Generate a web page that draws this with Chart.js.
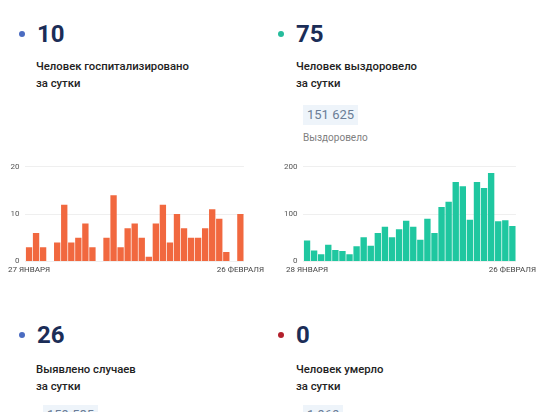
<!DOCTYPE html>
<html>
<head>
<meta charset="utf-8">
<script src="https://cdn.jsdelivr.net/npm/chart.js@4/dist/chart.umd.min.js"></script>
<style>
  html, body { margin: 0; padding: 0; background: #fff; }
  body { width: 550px; height: 412px; position: relative; overflow: hidden; font-family: Roboto, "Noto Sans", sans-serif; }
  .dot { position: absolute; width: 6px; height: 6px; border-radius: 50%; }
  .num { position: absolute; font-size: 24px; font-weight: 700; color: #1b2d57; line-height: 24px; }
  .lbl { position: absolute; font-size: 11.3px; font-weight: 500; color: #222; line-height: 17px; }
  .total { position: absolute; background: #eef4fa; color: #6a7d96; font-size: 13px; padding: 3px 4px; line-height: 14px; }
  .sub { position: absolute; font-size: 10px; color: #808080; }
  .box { position: absolute; }
</style>
</head>
<body>
  <div class="dot" style="left:19px;top:31px;background:#4b6cc1"></div>
  <div class="num" style="left:37px;top:22px">10</div>
  <div class="lbl" style="left:36px;top:58px">Человек госпитализировано<br>за сутки</div>

  <div class="dot" style="left:278px;top:31px;background:#26bc9c"></div>
  <div class="num" style="left:296px;top:22px">75</div>
  <div class="lbl" style="left:296px;top:58px">Человек выздоровело<br>за сутки</div>
  <div class="total" style="left:303px;top:105px">151 625</div>
  <div class="sub" style="left:303px;top:132px">Выздоровело</div>

  <div class="box" style="left:4px;top:156px;width:264px;height:123px"><canvas id="hospChart"></canvas></div>
  <div class="box" style="left:278px;top:156px;width:262px;height:123px"><canvas id="recChart"></canvas></div>

  <div class="dot" style="left:19px;top:332px;background:#4b6cc1"></div>
  <div class="num" style="left:37px;top:323px">26</div>
  <div class="lbl" style="left:36px;top:361px">Выявлено случаев<br>за сутки</div>
  <div class="total" style="left:43px;top:405px">159 585</div>

  <div class="dot" style="left:278px;top:332px;background:#b3202c"></div>
  <div class="num" style="left:296px;top:323px">0</div>
  <div class="lbl" style="left:296px;top:361px">Человек умерло<br>за сутки</div>
  <div class="total" style="left:303px;top:405px">1 969</div>

<script>
// госпитализировано: 27 января - 26 февраля
const hospDays = [
  "27 ЯНВАРЯ", "28", "29", "30", "31", "1", "2", "3", "4", "5", "6", "7", "8", "9", "10", "11",
  "12", "13", "14", "15", "16", "17", "18", "19", "20", "21", "22", "23", "24", "25", "26 ФЕВРАЛЯ",
];
const hospValues = [3, 6, 3, 0, 4, 12, 4, 5, 8, 3, 0, 5, 14, 3, 7, 8, 5, 1, 8, 12, 4, 10, 7, 5, 5, 7, 11, 9, 2, 0, 10];

// выздоровело: 28 января - 26 февраля
const recDays = [
  "28 ЯНВАРЯ", "29", "30", "31", "1", "2", "3", "4", "5", "6", "7", "8", "9", "10", "11",
  "12", "13", "14", "15", "16", "17", "18", "19", "20", "21", "22", "23", "24", "25", "26 ФЕВРАЛЯ",
];
const recValues = [44, 23, 15, 35, 24, 22, 15, 32, 51, 33, 60, 73, 51, 68, 86, 73, 46, 90, 60, 115, 126, 168, 159, 88, 168, 155, 187, 85, 87, 75];

const hospTicks = [0, 10, 20];
const recTicks = [0, 100, 200];

function BarChart(id, labels, values, color, ticks) {
  let context = document.querySelector(id).getContext("2d");
  new Chart(context, {
    type: "bar",
    data: {
      labels: labels,
      datasets: [
        {
          data: values,
          backgroundColor: color,
          barPercentage: 0.9,
          categoryPercentage: 1,
        },
      ],
    },
    options: {
      responsive: true,
      maintainAspectRatio: false,
      animation: false,
      layout: { padding: 0 },
      plugins: {
        legend: { display: false },
        tooltip: { enabled: false },
      },
      scales: {
        x: {
          grid: { display: false, drawTicks: false },
          border: { display: false },
          ticks: {
            autoSkip: false,
            maxRotation: 0,
            padding: 4,
            color: "#444",
            font: { size: 8, family: "Roboto" },
            callback: function (value, index) {
              return index === 0 || index === labels.length - 1 ? this.getLabelForValue(value) : "";
            },
          },
        },
        y: {
          min: ticks[0],
          max: ticks[ticks.length - 1],
          grid: { color: "#efefef", drawTicks: false },
          border: { display: false },
          afterBuildTicks: function (axis) {
            axis.ticks = ticks.map((v) => ({ value: v }));
          },
          ticks: {
            padding: 6,
            color: "#555",
            font: { size: 8, family: "Roboto" },
          },
        },
      },
    },
  });
}

BarChart("#hospChart", hospDays, hospValues, "#f1683f", hospTicks);
BarChart("#recChart", recDays, recValues, "#1fc7a0", recTicks);
</script>
</body>
</html>
